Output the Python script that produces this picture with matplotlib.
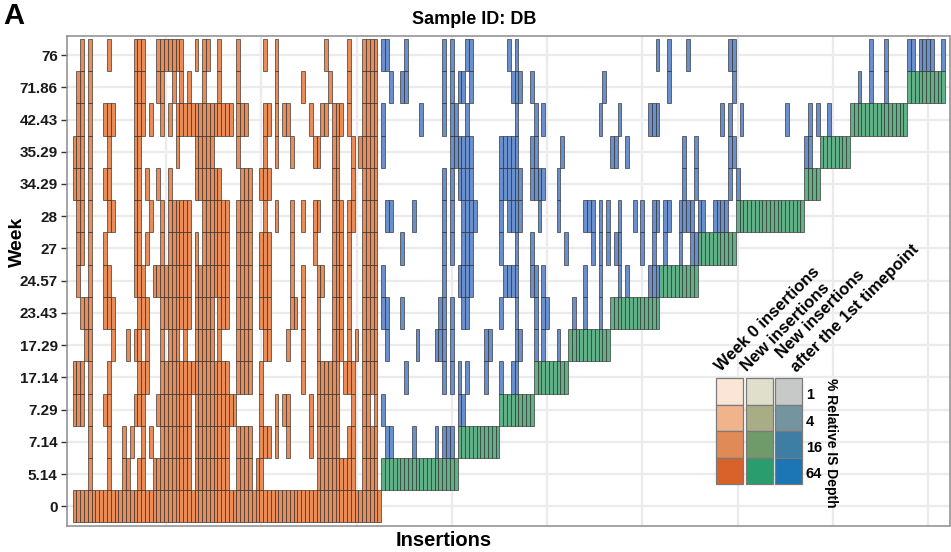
import matplotlib
matplotlib.use("Agg")
import matplotlib.pyplot as plt
from matplotlib.patches import Rectangle
import numpy as np

plt.rcParams['font.family'] = ['Liberation Sans', 'DejaVu Sans']

# ---------------- data ----------------
weeks = ["0", "5.14", "7.14", "7.29", "17.14", "17.29", "23.43", "24.57",
         "27", "28", "34.29", "35.29", "42.43", "71.86", "76"]
# number of new insertions first detected at each timepoint
new_counts = [81, 20, 11, 9, 9, 11, 13, 10, 10, 18, 4, 8, 15, 10, 0]

# week-0 insertions re-detected at each timepoint (insertion index)
week0_seen = [
    "",
    "5,10,14-15,18-19,22-31,33-41,44-47,49-50,65-74,77-80",
    "5,10,14,16,19,21,24-31,33-41,44-47,50-52,54,57,63,65-70,73-74,77-80",
    "1-3,5,9-10,17-19,23-31,33-43,50,54,56-57,63,65-70,74,77-78,80",
    "1-3,5,10,18-20,24-41,44-47,50,61,65-70,72-74,77-80",
    "4-5,11,15,17-18,20,24,26-28,30,33-37,39,44-47,51-52,57,61,65,69-71,73,75,77-80",
    "3-5,9-11,18-20,24-31,33-37,39-41,44-47,50-52,58-59,61,65,69-71,73,77-80",
    "2,5,9-10,17-19,22-31,33-41,44-47,50-52,58,61,65-66,69-71,73,77-80",
    "2-3,5,9,17-18,20,24,26-31,33,35-41,44-47,50-52,58,64,69-71,73,77-80",
    "2-3,5,10-11,17-18,21,24,26-31,35-41,44-47,51,54,58,61,64-65,69-71,73-74,77-80",
    "1-3,5,9-10,17-18,20,23,26,33-39,45-47,50-52,69-70,74,77-80",
    "1-3,5,10,17-18,28,33-37,44,51,54,58,64-65,69-70,74,76-80",
    "2-3,5,9-11,17-19,21,24,26,28-42,44-46,51-52,54,56-57,63,66-67,69-71,73,77-80",
    "2-3,5,17-19,23-24,27,29,31,35,39,44,54,61,68,73,77-80",
    "3,5,10,17-19,23-29,33,35-36,39,44,51,54,67,73,77-80",
]

# later-new insertions re-detected after the timepoint they first appeared
later_seen = [
    "",
    "",
    "83-84,90,96,98-100",
    "82,102-103",
    "88,98,100,102,104,109,113,116-117",
    "83,91,96-98,100,109-110,117-118,122,124,128",
    "82-83,87,97-98,100,103-104,113,117,122,124-125,132,135,139",
    "82,98,102-105,114-117,121-122,124,135,139,144,146,152-154",
    "87,98,100,103-105,113,117,121,130,137,139,141,143-144,150,153,156,160,163-164",
    "83-84,90,98,100,103-106,113,115-118,123,128,135-137,139,141,144,148,150,153-154,156-157,160-163,165-166,169-172",
    "98,100,102-105,113-118,121-124,128,161,164,173,175",
    "82,100-105,113-117,121-122,129,142-143,146,161,164,173-174,193-194",
    "82,92,98,100-101,104,117,122,124,139,144,152-154,171,173,176,188,194,196,199",
    "84,87-88,98,100,102-103,105,116-118,121,140,157,174,207,210,214",
    "82-83,88,98,100,104-105,115,117,154,157,162,173-174,210,214,220-221,223-226,229",
]

legend_groups = ["Week 0 insertions", "New insertions", "New insertions\nafter the 1st timepoint"]
legend_levels = ["1", "4", "16", "64"]
legend_colors = [
    ["#FBE5D6", "#F0B48C", "#E08A58", "#D8622A"],
    ["#E0DFCC", "#A9AD86", "#6F9A69", "#2A9D6E"],
    ["#C7C9C9", "#7494A0", "#3F7EA4", "#1C75B5"],
]

tile_colors = {"week0": "#E98C58", "new": "#62B087", "later": "#6A8FCD"}


def parse(s):
    out = []
    for part in s.split(","):
        part = part.strip()
        if not part:
            continue
        if "-" in part:
            a, b = part.split("-")
            out.extend(range(int(a), int(b) + 1))
        else:
            out.append(int(part))
    return out


# ---------------- figure ----------------
W, H = 951, 552
fig = plt.figure(figsize=(W / 100, H / 100), dpi=100)


def fx(px):
    return px / W


def fy(py):
    return 1 - py / H


ax_l, ax_r, ax_t, ax_b = 66.7, 949.5, 35.7, 525.7
ax = fig.add_axes([fx(ax_l), fy(ax_b), fx(ax_r) - fx(ax_l), fy(ax_t) - fy(ax_b)])
ax.set_facecolor("white")

ends = np.cumsum(new_counts)
starts = ends - np.array(new_counts) + 1

for r, wk in enumerate(weeks):
    cols, cols_c = [], []
    for c in parse(week0_seen[r]):
        cols.append(c); cols_c.append(tile_colors["week0"])
    if new_counts[r] > 0:
        grp = "week0" if r == 0 else "new"
        for c in range(int(starts[r]), int(ends[r]) + 1):
            cols.append(c); cols_c.append(tile_colors[grp])
    for c in parse(later_seen[r]):
        cols.append(c); cols_c.append(tile_colors["later"])
    ax.bar(cols, 1.0, width=1.0, bottom=r - 0.5, color=cols_c,
           edgecolor="#2a2a2a", linewidth=0.45, align="center", zorder=2)

ax.set_xlim(-1.05, 230.6)
ax.set_ylim(-0.6, len(weeks) - 0.4)
ax.set_yticks(range(len(weeks)))
ax.set_yticklabels(weeks, fontsize=11, fontweight="bold", color="#1a1a1a")
ax.set_xticks(np.arange(25, 226, 25))
ax.tick_params(axis="x", length=0, labelbottom=False)
ax.tick_params(axis="y", length=4.5, width=1.0, color="#333333", pad=2)
ax.grid(True, color="#EBEBEB", linewidth=1.6, zorder=0)
ax.set_axisbelow(True)
for sp in ax.spines.values():
    sp.set_color("#8c8c8c")
    sp.set_linewidth(1.1)

# titles
fig.text(fx(474.5), fy(19), "Sample ID: DB", ha="center", va="center",
         fontsize=13, fontweight="bold")
fig.text(fx(443.5), fy(541), "Insertions", ha="center", va="center",
         fontsize=14.5, fontweight="bold")
fig.text(fx(17), fy(242), "Week", ha="center", va="center", rotation=90,
         fontsize=14, fontweight="bold")
fig.text(fx(3), fy(2), "A", ha="left", va="top", fontsize=21, fontweight="bold")

# ---------------- legend ----------------
col_x = [716, 745.5, 775]
sw_w = 27
sw_top = 378
sw_h = 26.5
for g in range(3):
    for k in range(4):
        x0 = col_x[g]
        y0 = sw_top + k * sw_h
        rect = Rectangle((fx(x0), fy(y0 + sw_h)), sw_w / W, sw_h / H,
                         transform=fig.transFigure, facecolor=legend_colors[g][k],
                         edgecolor="#7a7a7a", linewidth=0.9, zorder=5)
        fig.add_artist(rect)
for k, lab in enumerate(legend_levels):
    fig.text(fx(806), fy(sw_top + k * sw_h + 17), lab, ha="left", va="center",
             fontsize=10.5, fontweight="bold")
fig.text(fx(831), fy(sw_top), "% Relative IS Depth", ha="center", va="top",
         rotation=-90, fontsize=10, fontweight="bold")

hdr_pos = [(721, 372), (747, 372)]
for (px, py), txt in zip(hdr_pos, legend_groups[:2]):
    fig.text(fx(px), fy(py), txt, rotation=45, rotation_mode="anchor",
             ha="left", va="baseline", fontsize=12, fontweight="bold")
l1, l2 = legend_groups[2].split("\n")
fig.text(fx(782), fy(359), l1, rotation=45, rotation_mode="anchor",
         ha="left", va="baseline", fontsize=12, fontweight="bold")
fig.text(fx(797), fy(373), l2, rotation=45, rotation_mode="anchor",
         ha="left", va="baseline", fontsize=12, fontweight="bold")

fig.savefig("out.png", dpi=100)
